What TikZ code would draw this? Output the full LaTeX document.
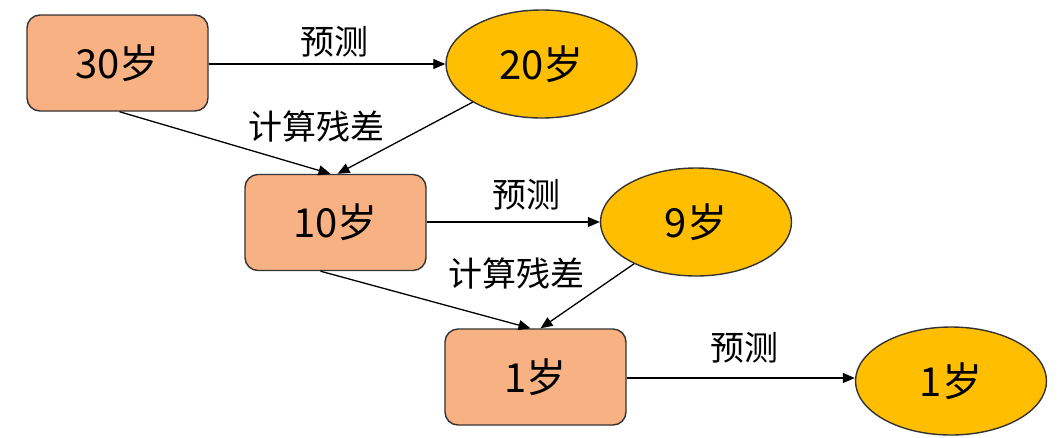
\documentclass[tikz,border=0pt]{standalone}
\usepackage{fontspec}
\setmainfont{Noto Sans CJK SC}
\usetikzlibrary{shapes.geometric,arrows.meta,calc}
\definecolor{boxfill}{HTML}{F7B183}
\definecolor{ovalfill}{HTML}{FFBF00}
\definecolor{edge}{HTML}{333333}
\tikzset{
  agebox/.style={draw=edge, line width=1.4pt, fill=boxfill, rounded corners=13pt,
    minimum width=181pt, minimum height=96pt, inner sep=0pt,
    font=\fontsize{40}{44}\selectfont},
  guess/.style={ellipse, draw=edge, line width=1.4pt, fill=ovalfill,
    minimum width=191pt, minimum height=108pt, inner sep=0pt,
    font=\fontsize{40}{44}\selectfont},
  arr/.style={draw=black, line width=1.3pt, -{Triangle[length=12pt,width=10pt]}},
  lbl/.style={font=\fontsize{34}{38}\selectfont, inner sep=0pt}
}
\begin{document}
\begin{tikzpicture}[x=1pt,y=-1pt]
  \useasboundingbox (0,0) rectangle (1062,437);
  % residual chain: boxes on the left, predictions on the right
  \node[agebox] (b1) at (117.5,63) {30岁};
  \node[guess]  (e1) at (541.5,64) {20岁};
  \node[agebox] (b2) at (335.5,222.5) {10岁};
  \node[guess]  (e2) at (696,222) {9岁};
  \node[agebox] (b3) at (535.5,377) {1岁};
  \node[guess]  (e3) at (951,381) {1岁};

  % prediction arrows
  \draw[arr] (b1.east |- 0,64) -- (e1.west |- 0,64);
  \draw[arr] (b2.east |- 0,222) -- (e2.west |- 0,222);
  \draw[arr] (b3.east |- 0,378) -- (e3.west |- 0,378);

  % residual arrows
  \draw[arr] ($(b1.south)+(2,0)$) -- ($(b2.north)+(-5,0)$);
  \draw[arr] (e1.209) -- ($(b2.north)+(2,0)$);
  \draw[arr] ($(b2.south)+(-15,0)$) -- ($(b3.north)+(-5,0)$);
  \draw[arr] (e2.214) -- ($(b3.north)+(5,0)$);

  % labels
  \node[lbl] (p1) at (334,42) {预测};
  \node[lbl] (r1) at (316,127) {计算残差};
  \node[lbl] (p2) at (526,195) {预测};
  \node[lbl] (r2) at (516,274) {计算残差};
  \node[lbl] (p3) at (744,348) {预测};
\end{tikzpicture}
\end{document}
